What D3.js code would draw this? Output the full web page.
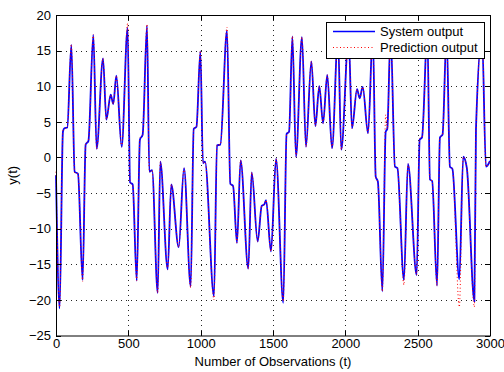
<!DOCTYPE html>
<html>
<head>
<meta charset="utf-8">
<script src="https://cdn.jsdelivr.net/npm/d3@7"></script>
<style>
  body { margin: 0; background: #fff; }
  svg { display: block; font-family: "Liberation Sans", Arial, sans-serif; }
  .grid line { stroke: #000; stroke-width: 1; stroke-dasharray: 1,4; shape-rendering: crispEdges; opacity: 0.85; }
  .axis text { font-size: 13px; fill: #000; }
  .axis line { stroke: #000; shape-rendering: crispEdges; }
</style>
</head>
<body>
<svg id="chart" width="504" height="372"></svg>
<script>
// observation index, read at the turning points of the trace
const tVals = [0, 25, 48, 58, 78, 106, 129, 152, 184, 205, 224, 258, 281, 325, 348, 378, 396, 417,
  454, 495, 512, 530, 558, 580, 599, 629, 645, 664, 703, 721, 772, 797, 848, 885, 931, 952, 971,
  998, 1016, 1030, 1092, 1113, 1136, 1182, 1205, 1224, 1251, 1276, 1329, 1353, 1394, 1422, 1440,
  1452, 1486, 1521, 1571, 1594, 1611, 1634, 1659, 1700, 1728, 1765, 1793, 1820, 1846, 1875, 1908,
  1949, 1972, 2023, 2046, 2081, 2099, 2120, 2157, 2190, 2210, 2225, 2256, 2279, 2290, 2313, 2343,
  2360, 2405, 2433, 2493, 2514, 2530, 2567, 2585, 2600, 2634, 2654, 2672, 2700, 2723, 2740, 2788,
  2815, 2840, 2892, 2903, 2945, 2972, 3000];

const systemOut = [-2.5, -21.2, 3.6, 4.1, 4.2, 15.8, -2.0, -2.3, -17.2, 1.8, 2.3, 17.2, 1.2, 13.9, 5.3, 8.8, 7.5, 11.5,
  1.5, 18.2, -3.5, -3.8, -17.3, 2.5, 3.2, 18.5, -2.0, -1.8, -19.0, -0.6, -15.7, -3.8, -12.6, -1.5, -18.1, 4.0, 4.3,
  14.9, -0.8, -0.6, -19.5, 1.7, 1.8, 17.8, -3.7, -4.0, -12.0, -0.4, -15.6, -2.1, -11.8, -6.8, -6.6,
  -6.0, -13.2, -0.2, -20.4, 3.3, 3.6, 17.0, 0.1, 16.9, 1.5, 13.5, 4.4, 10.0, 4.8, 11.6, 1.3,
  17.0, 1.1, 17.0, 4.1, 9.6, 8.3, 9.9, 3.4, 17.5, -2.7, -3.4, -18.8, 3.6, 4.0, 17.5, -1.3,
  -1.5, -17.2, -0.9, -16.5, 2.5, 2.8, 17.5, -3.1, -3.3, -18.0, 2.8, 3.2, 17.5, -1.3, -1.6, -17.1,
  0.1, -1.5, -20.2, 3.9, 17.0, -1.3, -0.5];

const predictionOut = [-2.0, -21.0, 3.8, 4.0, 4.2, 15.9, -2.2, -2.3, -17.4, 2.0, 2.3, 17.3, 1.2, 13.9, 5.3, 8.8, 7.5, 11.5,
  1.5, 18.8, -3.5, -3.9, -17.3, 2.7, 3.2, 18.7, -2.0, -1.8, -19.0, -0.6, -15.7, -3.8, -12.6, -1.5, -18.3, 4.0, 4.3,
  15.0, -0.8, -0.6, -20.0, 1.8, 1.8, 18.3, -3.7, -4.0, -12.0, -0.4, -15.6, -2.1, -11.8, -6.8, -6.6,
  -6.0, -13.2, -0.2, -20.2, 3.3, 3.6, 17.0, 0.1, 16.9, 1.5, 13.5, 4.4, 10.0, 4.8, 11.6, 1.3,
  17.0, 1.1, 17.0, 4.1, 9.6, 8.3, 9.9, 3.4, 17.5, -2.7, -3.6, -18.8, 6.0, 4.0, 17.5, -1.3,
  -1.5, -17.9, -0.9, -16.5, 2.7, 2.8, 17.5, -3.1, -3.3, -18.0, 2.8, 3.2, 17.5, -1.3, -1.6, -21.0,
  0.1, -1.5, -21.0, 3.9, 17.0, -1.3, -0.5];

const xTicks = [0, 500, 1000, 1500, 2000, 2500, 3000];
const yTicks = [-25, -20, -15, -10, -5, 0, 5, 10, 15, 20];
const seriesNames = ["System output", "Prediction output"];

var svg = d3.select("#chart"),
    margin = {top: 15, right: 14, bottom: 36.5, left: 56},
    width = +svg.attr("width") - margin.left - margin.right,
    height = +svg.attr("height") - margin.top - margin.bottom;

var x = d3.scaleLinear()
    .domain([0, 3000])
    .range([margin.left, margin.left + width]);

var y = d3.scaleLinear()
    .domain([-25, 20])
    .range([margin.top + height, margin.top]);

svg.append("rect").attr("width", 504).attr("height", 372).attr("fill", "#fff");

// dotted grid
var grid = svg.append("g").attr("class", "grid");
grid.selectAll(".gx").data(xTicks.slice(1, -1)).enter().append("line")
    .attr("x1", d => Math.round(x(d)) + 0.5).attr("x2", d => Math.round(x(d)) + 0.5)
    .attr("y1", margin.top).attr("y2", margin.top + height);
grid.selectAll(".gy").data(yTicks.slice(1, -1)).enter().append("line")
    .attr("y1", d => Math.round(y(d)) + 0.5).attr("y2", d => Math.round(y(d)) + 0.5)
    .attr("x1", margin.left).attr("x2", margin.left + width);

var sysData = tVals.map((t, i) => ({t: t, v: systemOut[i]}));
var predData = tVals.map((t, i) => ({t: t, v: predictionOut[i]}));

var line = d3.line()
    .curve(d3.curveMonotoneX)
    .x(d => x(d.t))
    .y(d => y(d.v));

var plot = svg.append("g");

plot.append("path")
    .datum(sysData)
    .attr("fill", "none")
    .attr("stroke", "#0000ff")
    .attr("stroke-width", 1.8)
    .attr("stroke-linejoin", "round")
    .attr("d", line);

plot.append("path")
    .datum(predData)
    .attr("fill", "none")
    .attr("stroke", "#ff0000")
    .attr("stroke-width", 1)
    .attr("stroke-dasharray", "1,2.5")
    .attr("d", line);

// axes with inward ticks
var fmt = d3.format("d");

svg.append("g")
    .attr("class", "axis")
    .attr("transform", "translate(0," + (margin.top + height) + ")")
    .call(d3.axisBottom(x).tickValues(xTicks).tickFormat(fmt).tickSizeInner(-5).tickSizeOuter(0).tickPadding(3))
    .call(g => g.select(".domain").remove());

svg.append("g")
    .attr("class", "axis")
    .attr("transform", "translate(" + margin.left + ",0)")
    .call(d3.axisLeft(y).tickValues(yTicks).tickFormat(fmt).tickSizeInner(-5).tickSizeOuter(0).tickPadding(5))
    .call(g => g.select(".domain").remove());

svg.append("g")
    .attr("class", "axis")
    .attr("transform", "translate(0," + margin.top + ")")
    .call(d3.axisTop(x).tickValues(xTicks).tickSizeInner(-5).tickSizeOuter(0).tickFormat(""))
    .call(g => g.select(".domain").remove());

svg.append("g")
    .attr("class", "axis")
    .attr("transform", "translate(" + (margin.left + width) + ",0)")
    .call(d3.axisRight(y).tickValues(yTicks).tickSizeInner(-5).tickSizeOuter(0).tickFormat(""))
    .call(g => g.select(".domain").remove());

svg.append("rect")
    .attr("x", margin.left + 0.5)
    .attr("y", margin.top + 0.5)
    .attr("width", width)
    .attr("height", height)
    .attr("fill", "none")
    .attr("stroke", "#000")
    .attr("stroke-width", 1);

// axis titles
svg.append("text")
    .attr("x", margin.left + width / 2)
    .attr("y", 366)
    .attr("text-anchor", "middle")
    .attr("font-size", 13)
    .text("Number of Observations (t)");

svg.append("text")
    .attr("transform", "translate(17," + (margin.top + height / 2) + ") rotate(-90)")
    .attr("text-anchor", "middle")
    .attr("font-size", 13)
    .text("y(t)");

// legend
var legend = svg.append("g").attr("transform", "translate(326,22)");
legend.append("rect")
    .attr("x", 0.5).attr("y", 0.5)
    .attr("width", 158).attr("height", 36)
    .attr("fill", "#fff").attr("stroke", "#000").attr("stroke-width", 1);

var styles = [
    {stroke: "#0000ff", width: 1.6, dash: null},
    {stroke: "#ff0000", width: 1, dash: "1,2.5"}
];

seriesNames.forEach(function(name, i) {
    var yy = 9.5 + i * 16;
    legend.append("line")
        .attr("x1", 7).attr("x2", 49)
        .attr("y1", yy).attr("y2", yy)
        .attr("stroke", styles[i].stroke)
        .attr("stroke-width", styles[i].width)
        .attr("stroke-dasharray", styles[i].dash);
    legend.append("text")
        .attr("x", 54)
        .attr("y", yy + 4.5)
        .attr("font-size", 13)
        .text(name);
});
</script>
</body>
</html>
